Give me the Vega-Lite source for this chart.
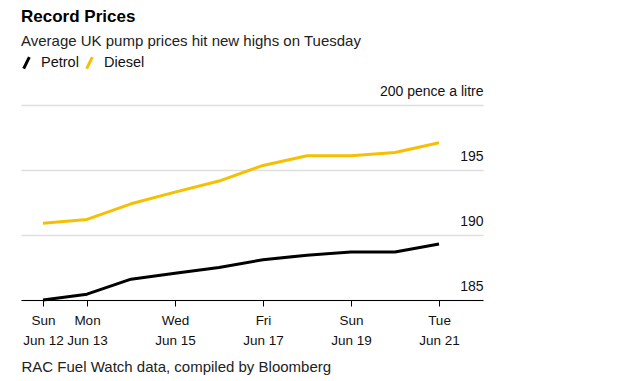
{
  "$schema": "https://vega.github.io/schema/vega-lite/v6.json",
  "width": 462,
  "height": 195,
  "autosize": {"type": "none"},
  "padding": {"left": 21, "top": 105, "right": 134, "bottom": 81},
  "background": "white",
  "config": {
    "font": "Liberation Sans",
    "view": {"stroke": null}
  },
  "title": {
    "text": "Record Prices",
    "subtitle": "Average UK pump prices hit new highs on Tuesday",
    "anchor": "start",
    "frame": "group",
    "font": "Liberation Sans",
    "fontSize": 17,
    "fontWeight": "bold",
    "color": "#000000",
    "subtitleFont": "Liberation Sans",
    "subtitleFontSize": 15,
    "subtitleColor": "#222222",
    "subtitlePadding": 8,
    "offset": 5
  },
  "data": {
    "values": [
      {"date": "2022-06-12", "fuel": "Petrol", "price": 185.0},
      {"date": "2022-06-13", "fuel": "Petrol", "price": 185.45},
      {"date": "2022-06-14", "fuel": "Petrol", "price": 186.6},
      {"date": "2022-06-15", "fuel": "Petrol", "price": 187.05},
      {"date": "2022-06-16", "fuel": "Petrol", "price": 187.5},
      {"date": "2022-06-17", "fuel": "Petrol", "price": 188.1},
      {"date": "2022-06-18", "fuel": "Petrol", "price": 188.45},
      {"date": "2022-06-19", "fuel": "Petrol", "price": 188.7},
      {"date": "2022-06-20", "fuel": "Petrol", "price": 188.7},
      {"date": "2022-06-21", "fuel": "Petrol", "price": 189.3},
      {"date": "2022-06-12", "fuel": "Diesel", "price": 190.9},
      {"date": "2022-06-13", "fuel": "Diesel", "price": 191.2},
      {"date": "2022-06-14", "fuel": "Diesel", "price": 192.4},
      {"date": "2022-06-15", "fuel": "Diesel", "price": 193.3},
      {"date": "2022-06-16", "fuel": "Diesel", "price": 194.15},
      {"date": "2022-06-17", "fuel": "Diesel", "price": 195.35},
      {"date": "2022-06-18", "fuel": "Diesel", "price": 196.1},
      {"date": "2022-06-19", "fuel": "Diesel", "price": 196.1},
      {"date": "2022-06-20", "fuel": "Diesel", "price": 196.35},
      {"date": "2022-06-21", "fuel": "Diesel", "price": 197.1}
    ]
  },
  "mark": {"type": "line", "strokeWidth": 3, "strokeCap": "butt", "strokeJoin": "round"},
  "encoding": {
    "x": {
      "field": "date",
      "type": "temporal",
      "scale": {
        "type": "utc",
        "domain": [
          {"year": 2022, "month": 6, "date": 11, "hours": 12, "utc": true},
          {"year": 2022, "month": 6, "date": 22, "utc": true}
        ]
      },
      "axis": {
        "values": [
          {"year": 2022, "month": 6, "date": 12, "utc": true},
          {"year": 2022, "month": 6, "date": 13, "utc": true},
          {"year": 2022, "month": 6, "date": 15, "utc": true},
          {"year": 2022, "month": 6, "date": 17, "utc": true},
          {"year": 2022, "month": 6, "date": 19, "utc": true},
          {"year": 2022, "month": 6, "date": 21, "utc": true}
        ],
        "labelExpr": "[utcFormat(datum.value, '%a'), utcFormat(datum.value, '%b %d')]",
        "labelFontSize": 13.5,
        "labelColor": "#111111",
        "labelLineHeight": 20,
        "labelPadding": 7,
        "labelBaseline": "top",
        "labelFlush": false,
        "labelOverlap": false,
        "grid": false,
        "domainColor": "#000000",
        "domainWidth": 1,
        "tickColor": "#000000",
        "tickSize": 6,
        "tickWidth": 1,
        "title": "RAC Fuel Watch data, compiled by Bloomberg",
        "titleFontSize": 15,
        "titleFontWeight": "normal",
        "titleColor": "#222222",
        "titleAnchor": "start",
        "titleAlign": "left",
        "titlePadding": 13
      }
    },
    "y": {
      "field": "price",
      "type": "quantitative",
      "scale": {"domain": [185, 200], "nice": false, "zero": false},
      "axis": {
        "orient": "right",
        "values": [185, 190, 195, 200],
        "labelExpr": "datum.value == 200 ? '200 pence a litre' : datum.label",
        "labelAlign": "right",
        "labelBaseline": "alphabetic",
        "labelOffset": -10,
        "labelPadding": 0,
        "labelFontSize": 14,
        "labelColor": "#111111",
        "ticks": false,
        "domain": false,
        "grid": true,
        "gridColor": "#dedede",
        "gridWidth": 1.5,
        "title": null
      }
    },
    "color": {
      "field": "fuel",
      "type": "nominal",
      "scale": {"domain": ["Petrol", "Diesel"], "range": ["#000000", "#f6c000"]},
      "legend": {
        "title": null,
        "orient": "none",
        "legendX": -2,
        "legendY": -50,
        "direction": "horizontal",
        "symbolType": "M-0.5,1L0.5,-1",
        "symbolStrokeWidth": 3,
        "symbolSize": 130,
        "labelFontSize": 14.5,
        "labelColor": "#111111",
        "labelOffset": 7,
        "columnPadding": 1
      }
    }
  }
}
